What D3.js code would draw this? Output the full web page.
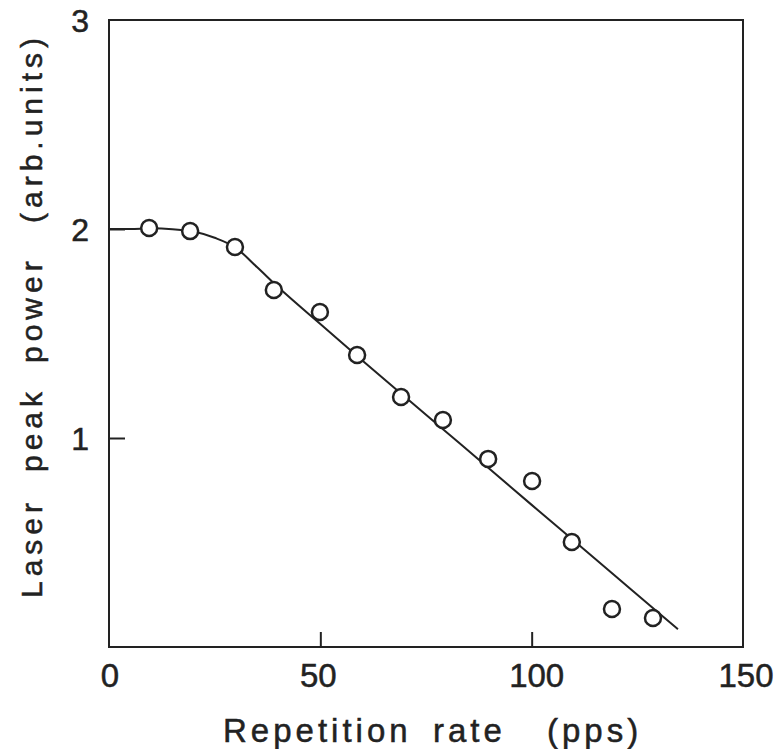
<!DOCTYPE html>
<html>
<head>
<meta charset="utf-8">
<script src="https://cdn.jsdelivr.net/npm/d3@7"></script>
<style>
  html, body { margin: 0; padding: 0; background: #fff; }
  svg { display: block; }
  text { font-family: "Liberation Sans", Arial, Helvetica, sans-serif; fill: #222; stroke: #222; stroke-width: 0.5px; }
</style>
</head>
<body>
<svg id="chart" width="782" height="749"></svg>
<script>
// Measured peak power versus repetition rate (open circles)
const rateMeasured  = [9.5, 19.2, 29.8, 39.0, 49.9, 58.7, 69.1, 79.0, 89.7, 100.1, 109.5, 119.0, 128.7];
const powerMeasured = [2.005, 1.99, 1.914, 1.708, 1.603, 1.397, 1.196, 1.086, 0.90, 0.794, 0.502, 0.182, 0.139];

// Fitted trend curve
const rateFit  = [0, 5, 10, 15, 20, 25, 30, 35, 40, 50, 60, 70, 80, 90, 100, 110, 120, 130, 134.6];
const powerFit = [2.0, 2.0, 2.003, 1.999, 1.988, 1.958, 1.91, 1.818, 1.722, 1.545, 1.37, 1.197, 1.025, 0.853, 0.68, 0.508, 0.336, 0.164, 0.085];

// Axis ticks
const xTicks = [0, 50, 100, 150];
const yTicks = [1, 2, 3];
const xTickLabels = ["0", "50", "100", "150"];
const yTickLabels = ["1", "2", "3"];

// Axis titles, word by word (wide typewriter-like spacing)
const xTitleWords = ["Repetition", "rate", "(pps)"];
const yTitleWords = ["Laser", "peak", "power", "(arb.units)"];

const svg = d3.select("#chart");
const plotLeft = 109, plotRight = 743, plotTop = 20, plotBottom = 647;

const x = d3.scaleLinear().domain([0, 150]).range([plotLeft, plotRight]);
const y = d3.scaleLinear().domain([0, 3]).range([plotBottom, plotTop]);

const ink = "#222";

// Frame
svg.append("rect")
  .attr("x", plotLeft).attr("y", plotTop)
  .attr("width", plotRight - plotLeft).attr("height", plotBottom - plotTop)
  .attr("fill", "none").attr("stroke", ink).attr("stroke-width", 2);

// Inward ticks on bottom and left axes
const xAxis = d3.axisBottom(x).tickValues([50, 100]).tickSizeInner(-15).tickSizeOuter(0).tickFormat("");
const yAxis = d3.axisLeft(y).tickValues([1, 2]).tickSizeInner(-16).tickSizeOuter(0).tickFormat("");
const gx = svg.append("g").attr("transform", `translate(0,${plotBottom})`).call(xAxis);
const gy = svg.append("g").attr("transform", `translate(${plotLeft},0)`).call(yAxis);
[gx, gy].forEach(g => {
  g.select(".domain").remove();
  g.selectAll(".tick line").attr("stroke", ink).attr("stroke-width", 2);
});

// Tick labels
svg.append("g").selectAll("text").data(xTicks).join("text")
  .attr("x", (d, i) => x(d) + [1, -2, 5, 3][i])
  .attr("y", 687)
  .attr("text-anchor", "middle")
  .attr("font-size", 33)
  .text((d, i) => xTickLabels[i]);

svg.append("g").selectAll("text").data(yTicks).join("text")
  .attr("x", 89)
  .attr("y", d => y(d))
  .attr("dy", "0.36em")
  .attr("text-anchor", "end")
  .attr("font-size", 32)
  .text((d, i) => yTickLabels[i]);

// X title
const xTitleStart = [223, 433, 547];
svg.append("g").selectAll("text").data(xTitleWords).join("text")
  .attr("x", (d, i) => xTitleStart[i])
  .attr("y", 742)
  .attr("font-size", 33)
  .attr("letter-spacing", 4)
  .text(d => d);

// Y title (rotated)
const yTitleStart = [598, 472, 363, 223];
svg.append("g").selectAll("text").data(yTitleWords).join("text")
  .attr("transform", (d, i) => `translate(42,${yTitleStart[i]}) rotate(-90)`)
  .attr("font-size", 30)
  .attr("letter-spacing", 5)
  .text(d => d);

// Fitted curve
const fit = rateFit.map((r, i) => [r, powerFit[i]]);
svg.append("path")
  .datum(fit)
  .attr("fill", "none")
  .attr("stroke", ink)
  .attr("stroke-width", 2)
  .attr("d", d3.line().x(d => x(d[0])).y(d => y(d[1])).curve(d3.curveMonotoneX));

// Measured points
const pts = rateMeasured.map((r, i) => [r, powerMeasured[i]]);
svg.append("g").selectAll("circle").data(pts).join("circle")
  .attr("cx", d => x(d[0]))
  .attr("cy", d => y(d[1]))
  .attr("r", 8)
  .attr("fill", "#fff")
  .attr("stroke", ink)
  .attr("stroke-width", 2.5);
</script>
</body>
</html>
